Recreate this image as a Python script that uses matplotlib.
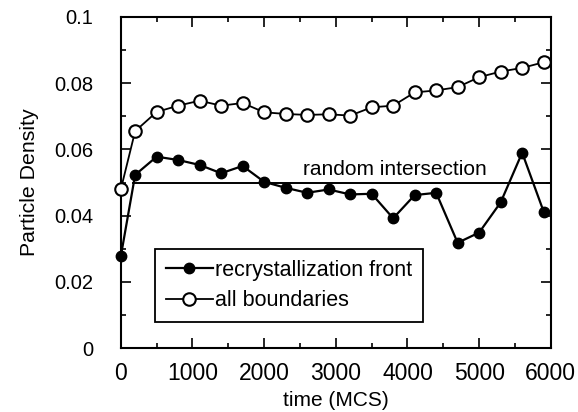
import matplotlib
matplotlib.use('Agg')
import matplotlib.pyplot as plt
from matplotlib.ticker import MultipleLocator, FixedLocator

plt.rcParams['font.family'] = ['Liberation Sans', 'DejaVu Sans']

time_mcs = [0, 200, 500, 800, 1100, 1400, 1700, 2000, 2300, 2600, 2900,
            3200, 3500, 3800, 4100, 4400, 4700, 5000, 5300, 5600, 5900]
recryst_front = [0.0277, 0.0523, 0.0578, 0.0568, 0.0553, 0.0528, 0.0550,
                 0.0502, 0.0484, 0.0469, 0.0479, 0.0464, 0.0466, 0.0392,
                 0.0462, 0.0469, 0.0318, 0.0349, 0.0440, 0.0590, 0.0412]
all_boundaries = [0.0479, 0.0655, 0.0713, 0.0732, 0.0747, 0.0732, 0.0740,
                  0.0712, 0.0707, 0.0704, 0.0706, 0.0702, 0.0727, 0.0732,
                  0.0772, 0.0778, 0.0788, 0.0818, 0.0835, 0.0846, 0.0863]
random_level = 0.05
random_span = [170, 6000]

fig = plt.figure(figsize=(5.78, 4.12), dpi=100)
ax = fig.add_axes([0.209, 0.155, 0.744, 0.804])

ax.plot(random_span, [random_level, random_level], color='black', lw=1.4)
ax.plot(time_mcs, recryst_front, '-o', color='black', lw=1.6, ms=7.5,
        mfc='black', mec='black', clip_on=False, zorder=3,
        label='recrystallization front')
ax.plot(time_mcs, all_boundaries, '-o', color='black', lw=1.3, ms=9,
        mfc='white', mec='black', mew=1.5, clip_on=False, zorder=4,
        label='all boundaries')

ax.text(3820, 0.0512, 'random intersection', fontsize=15, ha='center', va='bottom')

ax.set_xlim(0, 6000)
ax.set_ylim(0, 0.1)
ax.xaxis.set_major_locator(MultipleLocator(1000))
ax.xaxis.set_minor_locator(MultipleLocator(500))
ax.yaxis.set_major_locator(FixedLocator([0, 0.02, 0.04, 0.06, 0.08, 0.1]))
ax.yaxis.set_minor_locator(MultipleLocator(0.01))
ax.set_yticklabels(['0', '0.02', '0.04', '0.06', '0.08', '0.1'])
ax.tick_params(which='both', direction='in', top=True, right=True, width=1.2)
ax.tick_params(which='major', length=7)
ax.tick_params(which='minor', length=3.5)
ax.tick_params(axis='x', which='major', labelsize=16.5, pad=10)
ax.tick_params(axis='y', which='major', labelsize=14.5, pad=20)
for sp in ax.spines.values():
    sp.set_linewidth(1.5)

ax.set_xlabel('time (MCS)', fontsize=15, labelpad=4)
ax.set_ylabel('Particle Density', fontsize=15.3, labelpad=11)

leg = ax.legend(loc='lower left', bbox_to_anchor=(0.079, 0.079), fontsize=15.5,
                frameon=True, fancybox=False, edgecolor='black', framealpha=1,
                handlelength=2.2, handletextpad=0.1, borderpad=0.5,
                labelspacing=0.45, borderaxespad=0)
leg.get_frame().set_linewidth(1.3)

fig.savefig('out.png', dpi=100)
